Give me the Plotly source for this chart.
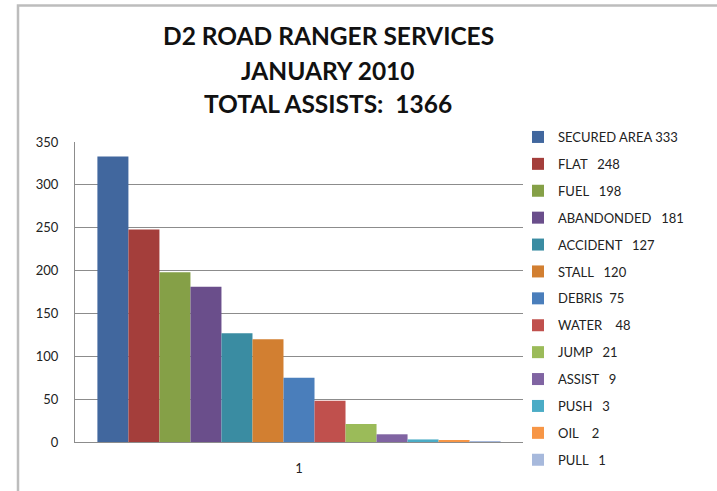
import plotly.graph_objects as go

NB = "\u00a0"
categories = ["1"]
labels = ["SECURED AREA", "FLAT", "FUEL", "ABANDONDED", "ACCIDENT", "STALL",
          "DEBRIS", "WATER", "JUMP", "ASSIST", "PUSH", "OIL", "PULL"]
values = [333, 248, 198, 181, 127, 120, 75, 48, 21, 9, 3, 2, 1]
gaps = [1, 3, 3, 3, 3, 3, 2, 4, 3, 3, 3, 4, 3]
colors = ["#41679E", "#A43E3B", "#85A047", "#6A4E8B", "#3A8CA2", "#D27F31",
          "#4A7EBB", "#C0504D", "#9BBB59", "#8064A2", "#4BACC6", "#F79646", "#A7B9DC"]
title_lines = ["D2 ROAD RANGER SERVICES", "JANUARY 2010", "TOTAL ASSISTS:  1366"]
y_ticks = [0, 50, 100, 150, 200, 250, 300, 350]

FONT = "Lato"
W, H = 717, 491
L, R, T, B = 75, 194, 142, 49
PW, PH = W - L - R, H - T - B


def px_x(x):
    return (x - L) / PW


def px_y(y):
    return (H - B - y) / PH


fig = go.Figure()
for i, (lab, v, c, g) in enumerate(zip(labels, values, colors, gaps)):
    fig.add_trace(go.Bar(x=categories, y=[v], name=lab + NB * g + str(v),
                         marker=dict(color=c, line=dict(width=0)),
                         legendgroup=f"g{i}"))

annotations = []
for ty, line in zip([35, 70, 103], title_lines):
    annotations.append(dict(text="<b>" + line + "</b>", x=px_x(328), y=px_y(ty),
                            xref="paper", yref="paper",
                            showarrow=False, xanchor="center", yanchor="middle",
                            font=dict(family=FONT, size=24.5, color="#111111")))

fig.update_layout(
    width=W, height=H,
    margin=dict(l=L, r=R, t=T, b=B),
    paper_bgcolor="white", plot_bgcolor="white",
    barmode="group", bargap=0.1, bargroupgap=0,
    font=dict(family=FONT, size=13, color="#222222"),
    showlegend=True,
    legend=dict(x=px_x(518), y=px_y(122), xanchor="left", yanchor="top",
                font=dict(family=FONT, size=13, color="#222222"),
                traceorder="grouped", tracegroupgap=7, bgcolor="rgba(0,0,0,0)",
                maxheight=1.0),
    annotations=annotations,
    xaxis=dict(showgrid=False, showline=True, linecolor="#8c8c8c", linewidth=1,
               ticks="", ticklabelstandoff=14,
               tickfont=dict(family=FONT, size=13, color="#222222")),
    yaxis=dict(range=[0, 350], tickvals=y_ticks, showgrid=True, gridcolor="#8c8c8c",
               gridwidth=1, showline=True, linecolor="#8c8c8c", linewidth=1,
               zeroline=False, ticks="", ticklabelstandoff=13,
               tickfont=dict(family=FONT, size=13, color="#222222")),
    shapes=[dict(type="rect", xref="paper", yref="paper",
                 x0=px_x(18), x1=px_x(760), y0=px_y(520), y1=px_y(5.5),
                 line=dict(color="#BDBDBD", width=2.5), fillcolor="rgba(0,0,0,0)",
                 layer="below")],
)

fig.write_html("out.html")
